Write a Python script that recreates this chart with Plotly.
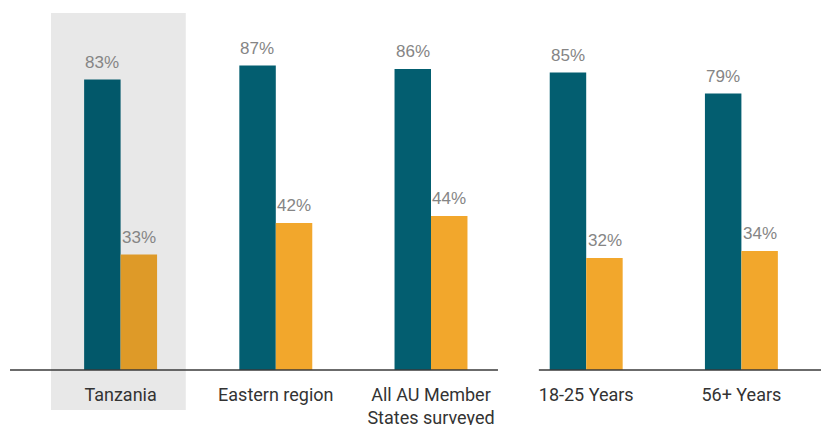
import plotly.graph_objects as go

categories = ["Tanzania", "Eastern region", "All AU Member<br>States surveyed", "18-25 Years", "56+ Years"]
series_a = [83, 87, 86, 85, 79]   # teal series (%)
series_b = [33, 42, 44, 32, 34]   # orange series (%)

teal_colors = ["#02586A", "#035E70", "#035E70", "#035E70", "#035E70"]
orange_colors = ["#DE9A28", "#F2A72C", "#F2A72C", "#F2A72C", "#F2A72C"]

x = list(range(len(categories)))
label_font = dict(family="Liberation Sans, Arial, sans-serif", size=17, color="#858585")
BAR_OFFSET = 0.118  # half of one bar width, in category units

fig = go.Figure()
fig.add_trace(go.Bar(x=x, y=series_a, marker=dict(color=teal_colors, line=dict(width=0)),
                     showlegend=False, hoverinfo="skip"))
fig.add_trace(go.Bar(x=x, y=series_b, marker=dict(color=orange_colors, line=dict(width=0)),
                     showlegend=False, hoverinfo="skip"))

for xi, va, vb in zip(x, series_a, series_b):
    fig.add_annotation(x=xi - BAR_OFFSET, y=va, text=f"{va}%", showarrow=False,
                       yanchor="bottom", yshift=6, font=label_font)
    fig.add_annotation(x=xi + BAR_OFFSET, y=vb, text=f"{vb}%", showarrow=False,
                       yanchor="bottom", yshift=6, font=label_font)

# highlight box behind Tanzania
fig.add_shape(type="rect", xref="paper", yref="paper", x0=0.0103, x1=0.184, y0=-0.114, y1=1.02,
              fillcolor="#E8E8E8", line=dict(width=0), layer="below")
# broken baseline
fig.add_shape(type="line", xref="paper", yref="paper", x0=-0.0425, x1=0.5863, y0=0, y1=0,
              line=dict(color="#3a3a3a", width=1.5))
fig.add_shape(type="line", xref="paper", yref="paper", x0=0.639, x1=1.03, y0=0, y1=0,
              line=dict(color="#3a3a3a", width=1.5))

fig.update_layout(
    width=821, height=417,
    margin=dict(l=35, r=10, t=12, b=55, autoexpand=False),
    barmode="group", bargap=0.53, bargroupgap=0,
    plot_bgcolor="white", paper_bgcolor="white",
    xaxis=dict(tickmode="array", tickvals=x, ticktext=categories, range=[-0.5, 4.5],
               showgrid=False, zeroline=False, showline=False, ticks="",
               automargin=False,
               tickfont=dict(family="Roboto, sans-serif", size=18, color="#333333"),
               ticklabelstandoff=12),
    yaxis=dict(range=[0, 100], visible=False, showgrid=False, zeroline=False, automargin=False),
)

fig.write_html("out.html")
